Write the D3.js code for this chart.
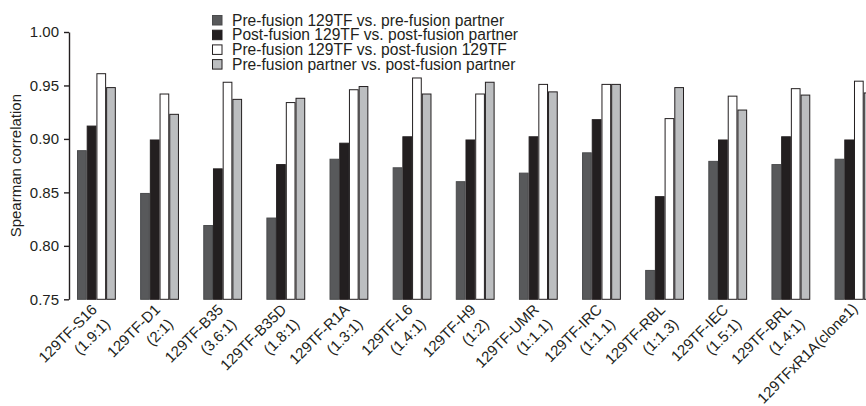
<!DOCTYPE html>
<html>
<head>
  <meta charset="utf-8">
  <title>Spearman correlation</title>
  <script src="https://d3js.org/d3.v7.min.js"></script>
  <style>
    body { margin: 0; background: #fff; }
    text { font-family: "Liberation Sans", Arial, Helvetica, sans-serif; fill: #231f20; }
  </style>
</head>
<body>
  <div id="chart"></div>

  <script>
    // samples, two label lines each (the last one is a single line)
    const sampleNames = ["129TF-S16", "129TF-D1", "129TF-B35", "129TF-B35D", "129TF-R1A", "129TF-L6",
      "129TF-H9", "129TF-UMR", "129TF-IRC", "129TF-RBL", "129TF-IEC", "129TF-BRL", "129TFxR1A(clone1)"];
    const sampleRatios = ["(1.9:1)", "(2:1)", "(3.6:1)", "(1.8:1)", "(1.3:1)", "(1.4:1)",
      "(1:2)", "(1:1.1)", "(1:1.1)", "(1:1.3)", "(1.5:1)", "(1.4:1)", ""];

    const seriesNames = [
      "Pre-fusion 129TF vs. pre-fusion partner",
      "Post-fusion 129TF vs. post-fusion partner",
      "Pre-fusion 129TF vs. post-fusion 129TF",
      "Pre-fusion partner vs. post-fusion partner"
    ];

    const preVsPrePartner   = [0.889, 0.849, 0.819, 0.826, 0.881, 0.873, 0.860, 0.868, 0.887, 0.777, 0.879, 0.876, 0.881];
    const postVsPostPartner = [0.912, 0.899, 0.872, 0.876, 0.896, 0.902, 0.899, 0.902, 0.918, 0.846, 0.899, 0.902, 0.899];
    const pre129VsPost129   = [0.961, 0.942, 0.953, 0.934, 0.946, 0.957, 0.942, 0.951, 0.951, 0.919, 0.940, 0.947, 0.954];
    const prePartVsPostPart = [0.948, 0.923, 0.937, 0.938, 0.949, 0.942, 0.953, 0.944, 0.951, 0.948, 0.927, 0.941, 0.943];

    const yTicks = [0.75, 0.80, 0.85, 0.90, 0.95, 1.00];

    const allSeries = [preVsPrePartner, postVsPostPartner, pre129VsPost129, prePartVsPostPart];
    const fills = ["#58595b", "#231f20", "#ffffff", "#bcbec0"];

    const width = 866, height = 406;

    const svg = d3.select("#chart")
      .append("svg")
      .attr("width", width)
      .attr("height", height);

    const x = d3.scaleBand()
      .domain(sampleNames)
      .range([77, 873.4])
      .paddingInner(0.385)
      .paddingOuter(0);

    const xSub = d3.scaleBand()
      .domain(d3.range(allSeries.length))
      .range([0, x.bandwidth()]);

    const y = d3.scaleLinear()
      .domain([0.75, 1.0])
      .range([299.3, 32]);

    // bars
    const groups = svg.selectAll(".group")
      .data(sampleNames)
      .enter()
      .append("g")
      .attr("class", "group")
      .attr("transform", d => "translate(" + x(d) + ",0)");

    groups.selectAll("rect")
      .data((d, i) => allSeries.map((s, k) => ({ k: k, v: s[i] })))
      .enter()
      .append("rect")
      .attr("x", d => xSub(d.k) + 0.5)
      .attr("y", d => y(d.v))
      .attr("width", xSub.bandwidth() - 1)
      .attr("height", d => y(0.75) - y(d.v))
      .attr("fill", d => fills[d.k])
      .attr("stroke", d => d.k === 0 ? "#4a4b4d" : "#231f20")
      .attr("stroke-width", 1);

    // y axis
    const yAxis = svg.append("g")
      .attr("transform", "translate(69,0)")
      .call(d3.axisLeft(y).tickValues(yTicks).tickFormat(d3.format(".2f")).tickSize(5).tickPadding(5).tickSizeOuter(0));
    yAxis.select(".domain").attr("stroke", "#231f20").attr("stroke-width", 1.4);
    yAxis.selectAll(".tick line").attr("stroke", "#231f20").attr("stroke-width", 1.4);
    yAxis.selectAll(".tick text")
      .style("font-family", "'Liberation Sans', Arial, Helvetica, sans-serif")
      .style("font-size", "15px")
      .attr("fill", "#231f20");

    svg.append("text")
      .attr("transform", "rotate(-90)")
      .attr("x", -(32 + 299.3) / 2)
      .attr("y", 21)
      .attr("text-anchor", "middle")
      .style("font-size", "15px")
      .text("Spearman correlation");

    // x labels, rotated; the end of each line sits under the group
    sampleNames.forEach((name, i) => {
      const cx = x(name) + x.bandwidth() / 2;
      const single = sampleRatios[i] === "";
      const t = svg.append("text")
        .attr("transform", "translate(" + (cx + (single ? 4.5 : 1.5)) + "," + (single ? 309.5 : 310.5) + ") rotate(-45)")
        .attr("text-anchor", "end")
        .style("font-size", "15px");
      t.append("tspan").attr("x", 0).attr("y", 0).text(name);
      if (!single) {
        t.append("tspan").attr("x", -1).attr("y", 19.5).text(sampleRatios[i]);
      }
    });

    // legend
    const legend = svg.append("g").attr("transform", "translate(212,15)");
    seriesNames.forEach((name, k) => {
      legend.append("rect")
        .attr("x", 0.5)
        .attr("y", k * 14.7 + 0.5)
        .attr("width", 9.5)
        .attr("height", 9.5)
        .attr("fill", fills[k])
        .attr("stroke", k === 0 ? "#4a4b4d" : "#231f20");
      legend.append("text")
        .attr("x", 20)
        .attr("y", k * 14.7 + 10.5)
        .style("font-size", "15.6px")
        .text(name);
    });
  </script>
</body>
</html>
